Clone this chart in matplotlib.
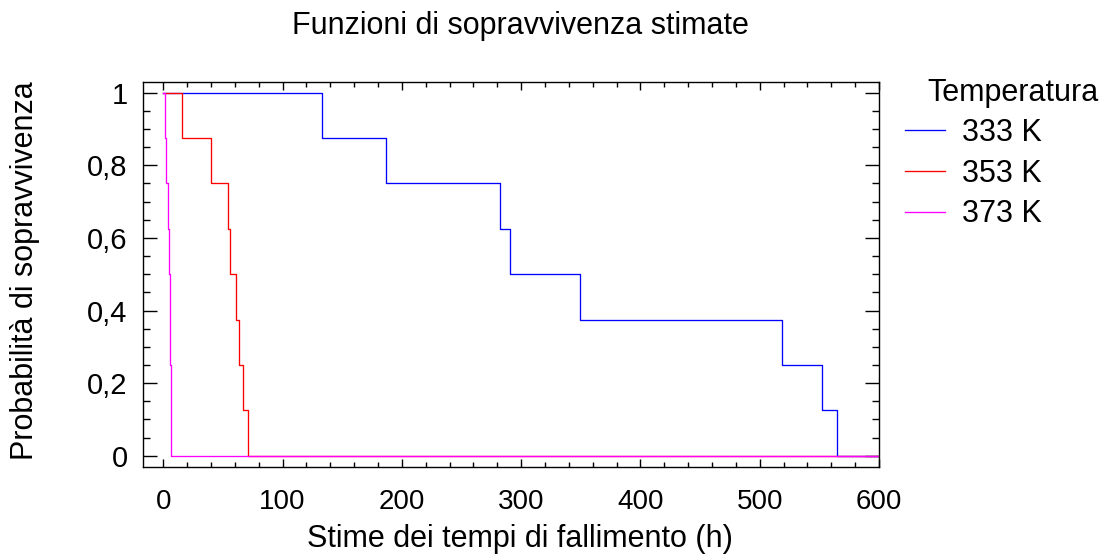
import matplotlib.pyplot as plt
import matplotlib.ticker as mticker
import numpy as np

plt.rcParams["font.family"] = ["Liberation Sans", "DejaVu Sans"]

# failure times (h), 8 units per temperature
t_333 = [133, 187, 282, 291, 349, 519, 552, 565]
t_353 = [16, 40, 54, 56, 61, 63.5, 67, 71]
t_373 = [1.3, 2.5, 3.6, 4.5, 5.3, 5.8, 6.5, 6.7]
labels = ["333 K", "353 K", "373 K"]
colors = ["#0000ff", "#ff0000", "#ff00ff"]
t_end = 600
FS = 22


def km_steps(times):
    n = len(times)
    x = [0] + list(times) + [t_end]
    s = [1 - i / n for i in range(n + 1)] + [0]
    return x, s


fig = plt.figure(figsize=(11.12, 5.59), dpi=100)
ax = fig.add_axes([0.1286, 0.1651, 0.6619, 0.6887])

for times, lab, col in zip([t_333, t_353, t_373], labels, colors):
    x, s = km_steps(times)
    ax.step(x, s, where="post", color=col, lw=0.95, label=lab)

ax.set_xlim(-17, 600)
ax.set_ylim(-0.03, 1.03)
ax.xaxis.set_major_locator(mticker.MultipleLocator(100))
ax.xaxis.set_minor_locator(mticker.MultipleLocator(20))
ax.yaxis.set_major_locator(mticker.MultipleLocator(0.2))
ax.yaxis.set_minor_locator(mticker.MultipleLocator(0.05))
ax.yaxis.set_major_formatter(
    mticker.FuncFormatter(lambda v, p: ("%g" % round(v, 2)).replace(".", ","))
)
ax.tick_params(which="both", direction="in", top=True, right=True, width=1)
ax.tick_params(axis="x", which="major", length=6, pad=16, labelsize=20)
ax.tick_params(axis="x", which="minor", length=3.5)
ax.tick_params(axis="y", which="major", length=10, pad=11, labelsize=21)
ax.tick_params(axis="y", which="minor", length=5)
for sp in ax.spines.values():
    sp.set_linewidth(1)

fig.text(520 / 1112, 1 - 539 / 559, "Stime dei tempi di fallimento (h)",
         ha="center", va="center", fontsize=FS)
fig.text(25 / 1112, 1 - 271 / 559, "Probabilità di sopravvivenza",
         ha="center", va="center", rotation=90, fontsize=FS)
fig.text(520 / 1112, 1 - 26 / 559, "Funzioni di sopravvivenza stimate",
         ha="center", va="center", fontsize=FS)
fig.text(927 / 1112, 1 - 93 / 559, "Temperatura", ha="left", va="center",
         fontsize=FS)
ax.legend(loc="upper left", bbox_to_anchor=(905 / 1112, 1 - 118 / 559),
          bbox_transform=fig.transFigure, frameon=False, fontsize=FS,
          handlelength=1.3, handletextpad=0.55, labelspacing=0.35,
          borderpad=0, borderaxespad=0)

fig.savefig("out.png", dpi=100)
